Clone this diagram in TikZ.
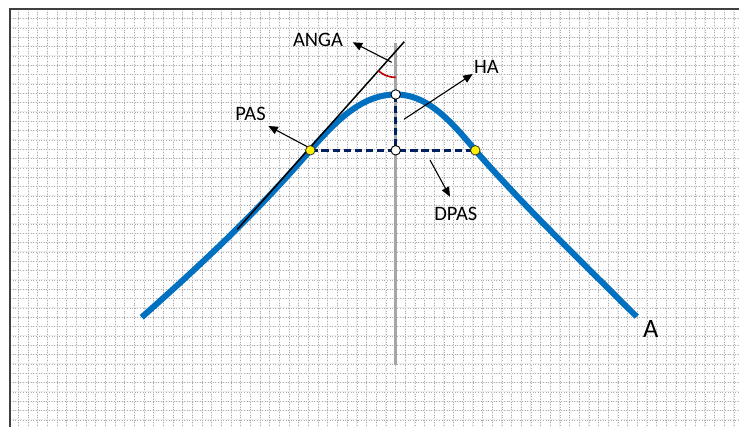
\documentclass[tikz,border=0pt]{standalone}
\usepackage{fontspec}
\setmainfont{Carlito}
\usetikzlibrary{arrows.meta}
\definecolor{curveblue}{HTML}{0070C0}
\definecolor{navyline}{HTML}{002060}
\definecolor{anglered}{HTML}{C00000}
\definecolor{axisgray}{HTML}{A6A6A6}
\begin{document}
\begin{tikzpicture}[x=1pt,y=-1pt,
  gridsolid/.style={draw=black!7,line width=0.9pt},
  griddot/.style={draw=black!32,line width=0.5pt,dash pattern=on 1pt off 1.6pt},
  lbl/.style={font=\fontsize{20.5}{24}\selectfont,inner sep=0pt},
  biglbl/.style={font=\fontsize{26.5}{30}\selectfont,inner sep=0pt},
  callout/.style={draw=black,line width=1.1pt,-{Triangle[length=9.5pt,width=8pt]}},
  whitedot/.style={circle,draw=black,line width=0.9pt,fill=white,minimum size=9.5pt,inner sep=0pt},
  yellowdot/.style={circle,draw=black!80,line width=0.8pt,fill=yellow,minimum size=9.5pt,inner sep=0pt},
  guide/.style={draw=navyline,line width=2.7pt,dash pattern=on 7.3pt off 3.8pt}]
\useasboundingbox (0,0) rectangle (739,427);
\fill[white] (0,0) rectangle (739,427);
% grid
\foreach \i in {0,...,74} {
  \draw[gridsolid] ({18.3+9.67*\i},9) -- ({18.3+9.67*\i},427);
  \draw[griddot] ({18.3+9.67*\i},9) -- ({18.3+9.67*\i},427);
}
\foreach \j in {0,...,44} {
  \draw[gridsolid] (10,{18.6+9.33*\j}) -- (739,{18.6+9.33*\j});
  \draw[griddot] (10,{18.6+9.33*\j}) -- (739,{18.6+9.33*\j});
}
\draw[line width=1.3pt,black!75] (10,427) -- (10,9) -- (739,9);
% key points
\coordinate (axtop) at (395.7,43);
\coordinate (axbot) at (395.7,365);
\coordinate (tanlo) at (237.3,229.3);
\coordinate (tanhi) at (404.3,41.7);
\coordinate (angv) at (395.7,77.4);
\coordinate (cstart) at (141.7,317.3);
\coordinate (cend) at (636.7,316.7);
\coordinate (peak) at (395.7,94.5);
\coordinate (foot) at (395.7,150.3);
\coordinate (pasl) at (310.3,150.3);
\coordinate (pasr) at (475.3,150.3);
% vertical axis
\draw[axisgray,line width=3pt] (axtop) -- (axbot);
% curve
\draw[curveblue,line width=6pt]
  (cstart) .. controls (197.7,267.5) and (254.3,215.3) .. (pasl)
  .. controls (340.3,115.5) and (365,94.5) .. (peak)
  .. controls (425,94.5) and (447,116) .. (pasr)
  .. controls (525.3,207.8) and (586.7,266.7) .. (cend);
% tangent
\draw[black,line width=1.5pt] (tanlo) -- (tanhi);
% angle arc
\draw[anglered,line width=1.6pt] (angv) arc[start angle=90,end angle=131.7,radius=26];
% dashed guides
\draw[guide] (pasl) -- (pasr);
\draw[guide] (peak) -- (foot);
\node[whitedot] (peakdot) at (peak) {};
\node[whitedot] (footdot) at (foot) {};
\node[yellowdot] (pasldot) at (pasl) {};
\node[yellowdot] (pasrdot) at (pasr) {};
% labels
\node[lbl] (anga) at (318,40) {ANGA};
\node[lbl] (ha) at (486.5,67) {HA};
\node[lbl] (pas) at (250.5,114) {PAS};
\node[lbl] (dpas) at (455.8,214.2) {DPAS};
\node[biglbl] (alabel) at (650.8,328.7) {A};
% callout arrows
\coordinate (angat) at (391.7,62.3);
\coordinate (angah) at (352.7,42.3);
\coordinate (hat) at (404,119.3);
\coordinate (hah) at (472.7,74);
\coordinate (past) at (307.3,146.7);
\coordinate (pash) at (268.3,126);
\coordinate (dpast) at (430,160);
\coordinate (dpash) at (450,196.7);
\draw[callout] (angat) -- (angah);
\draw[callout] (hat) -- (hah);
\draw[callout] (past) -- (pash);
\draw[callout] (dpast) -- (dpash);
\end{tikzpicture}
\end{document}
